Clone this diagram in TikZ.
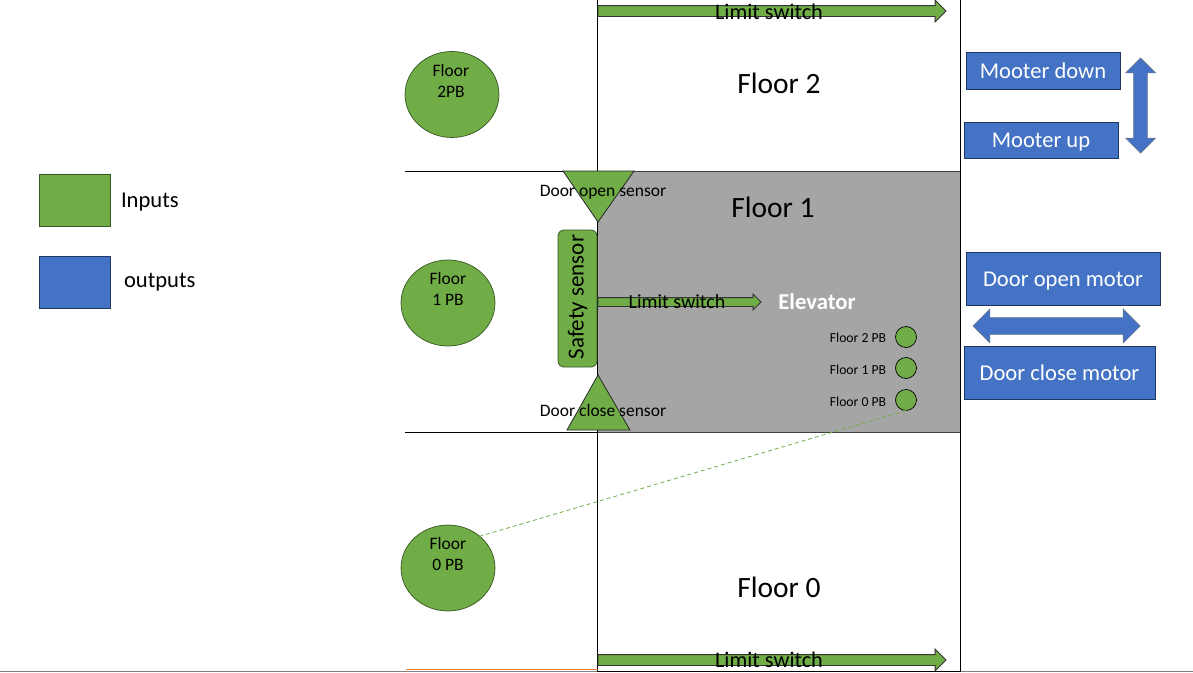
\documentclass[tikz,border=0pt]{standalone}
\usepackage{fontspec}
\setmainfont{Carlito}
\usetikzlibrary{shapes.arrows}
\usetikzlibrary{shapes.geometric}
\definecolor{ingreen}{HTML}{70AD47}
\definecolor{outblue}{HTML}{4472C4}
\definecolor{bluerim}{HTML}{1F3864}
\definecolor{greenrim}{HTML}{385723}
\definecolor{cabin}{HTML}{A5A5A5}
\definecolor{orangeline}{HTML}{ED7D31}
\newcommand{\fs}[1]{\fontsize{#1}{21}\selectfont}
\tikzset{
  inbox/.style={draw=greenrim,line width=0.8pt,fill=ingreen,inner sep=0pt,outer sep=0pt},
  outbox/.style={draw=bluerim,line width=1pt,fill=outblue,text=white,inner sep=0pt,outer sep=0pt,font=\fs{22.6},text height=19pt,text depth=4pt},
  bigpb/.style={ellipse,draw=greenrim,line width=0.7pt,fill=ingreen,inner sep=0pt,outer sep=0pt,minimum width=94pt,minimum height=86pt},
  smallpb/.style={circle,draw=black,line width=0.7pt,fill=ingreen,inner sep=0pt,outer sep=0pt,minimum size=21pt},
  limitarrow/.style={single arrow,anchor=tail,draw=black!80,line width=0.8pt,fill=ingreen,inner xsep=0pt,outer sep=0pt},
  movearrow/.style={double arrow,draw=bluerim!70,line width=0.7pt,fill=outblue,outer sep=0pt},
  label/.style={inner sep=0pt,outer sep=0pt,align=center}
}
\begin{document}
\begin{tikzpicture}[x=1pt,y=-1pt,line width=1pt]
\useasboundingbox (0,0) rectangle (1193,672);
% floors
\node (floorbox) [draw=black!75,line width=0.8pt,fill=cabin,inner sep=0pt,outer sep=0pt,minimum width=363pt,minimum height=261pt] at (778.5,301.5) {};
\coordinate (shafttopL) at (597.5,0);
\coordinate (shaftbotL) at (597.5,672);
\coordinate (shafttopR) at (960.5,0);
\coordinate (shaftbotR) at (960.5,672);
\coordinate (leveltwo) at (405,171);
\coordinate (levelone) at (405,432);
\coordinate (levelzero) at (406,669);
\coordinate (levelendtwo) at (597.5,171);
\coordinate (levelendone) at (597.5,432);
\coordinate (levelendzero) at (597.5,669);
\coordinate (pageL) at (0,671.5);
\coordinate (pageR) at (1193,671.5);
\coordinate (baseL) at (597.5,671);
\coordinate (baseR) at (960.5,671);
\draw[color=black!50] (pageL) -- (pageR);
\draw (shafttopL) -- (shaftbotL);
\draw (shafttopR) -- (shaftbotR);
\draw (leveltwo) -- (levelendtwo);
\draw (levelone) -- (levelendone);
\draw[color=orangeline] (levelzero) -- (levelendzero);
\draw (baseL) -- (baseR);
% legend
\node (ingreenkey) [inbox,minimum width=71pt,minimum height=52pt] at (74.5,200) {};
\node (outbluekey) [outbox,line width=0.8pt,minimum width=71pt,minimum height=52pt] at (74.5,282) {};
\node (inputslbl) [label,anchor=west,font=\fs{22.6}] at (121,202) {Inputs};
\node (outputslbl) [label,anchor=west,font=\fs{22.6}] at (124,282) {outputs};
% hall buttons
\node (pbtwo) [bigpb] at (452,94.5) {};
\node (pbone) [bigpb] at (448,303) {};
\node (pbzero) [bigpb] at (448,568) {};
\node (pbtwolbl) [label,font=\fs{17.5}] at (451,81) {Floor\\2PB};
\node (pbonelbl) [label,font=\fs{17.5}] at (448,289) {Floor\\1 PB};
\node (pbzerolbl) [label,font=\fs{17.5}] at (448,554) {Floor\\0 PB};
% door sensors
\draw[inbox,draw=black!85] (563,171) -- (634,171) -- (598,222) -- cycle;
\draw[inbox,draw=black!85] (598,375) -- (630,430) -- (567,430) -- cycle;
\node (safety) [inbox,rounded corners=6pt,minimum width=39pt,minimum height=137pt] at (577.5,298.5) {};
\node (safetylbl) [label,rotate=90,font=\fs{23}] at (577.5,297) {Safety sensor};
\node (openlbl) [label,font=\fs{17.5}] at (603,192) {Door open sensor};
\node (closelbl) [label,font=\fs{17.5}] at (603,410) {Door close sensor};
% limit switches
\node (limittwo) [limitarrow,minimum height=348pt,inner ysep=5pt,single arrow head extend=5.5pt] at (598,11) {};
\node (limitone) [limitarrow,minimum height=163pt,inner ysep=4pt,single arrow head extend=3.5pt] at (598,302) {};
\node (limitzero) [limitarrow,minimum height=348pt,inner ysep=5pt,single arrow head extend=5.5pt] at (598,660) {};
\node (limittwolbl) [label,font=\fs{22.3}] at (769,12) {Limit switch};
\node (limitonelbl) [label,font=\fs{20}] at (677,302) {Limit switch};
\node (limitzerolbl) [label,font=\fs{22.3}] at (769,660) {Limit switch};
% floor names
\node (floortwolbl) [label,font=\fs{29.5}] at (779,83) {Floor 2};
\node (flooronelbl) [label,font=\fs{29.5}] at (773,207) {Floor 1};
\node (floorzerolbl) [label,font=\fs{29.5}] at (779,587) {Floor 0};
% cabin
\node (elevatorlbl) [label,text=white,font=\fs{22.7}\bfseries] at (817,302) {Elevator};
\node (cabtwo) [smallpb] at (906,337) {};
\node (cabone) [smallpb] at (906,368) {};
\node (cabzero) [smallpb] at (906,400) {};
\node (cabtwolbl) [label,font=\fs{13.7}] at (858,338) {Floor 2 PB};
\node (cabonelbl) [label,font=\fs{13.7}] at (858,370) {Floor 1 PB};
\node (cabzerolbl) [label,font=\fs{13.7}] at (858,402) {Floor 0 PB};
\draw[ingreen,dash pattern=on 4pt off 3pt,line width=0.8pt] (cabzero.south) -- (pbzero.45);
% motors
\node (mdown) [outbox,minimum width=154pt,minimum height=37pt] at (1043,70.5) {Mooter down};
\node (mup) [outbox,minimum width=154pt,minimum height=36pt] at (1041,140) {Mooter up};
\node (dopen) [outbox,minimum width=194pt,minimum height=53pt] at (1063,278.5) {Door open motor};
\node (dclose) [outbox,minimum width=191pt,minimum height=53pt] at (1059.5,372.5) {Door close motor};
\node (updown) [movearrow,shape border rotate=90,minimum height=95pt,inner ysep=0pt,inner xsep=6.5pt,double arrow head extend=8pt] at (1140.5,105.5) {};
\node (openclose) [movearrow,minimum height=167pt,inner xsep=0pt,inner ysep=8pt,double arrow head extend=8.5pt] at (1056.5,326) {};
\end{tikzpicture}
\end{document}
